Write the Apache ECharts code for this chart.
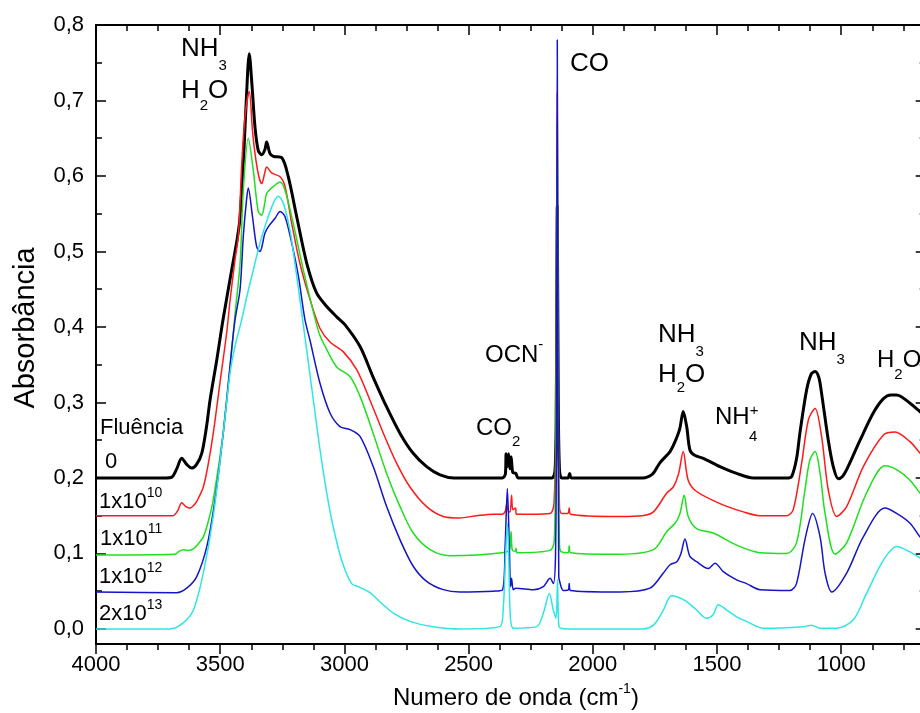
<!DOCTYPE html>
<html><head><meta charset="utf-8">
<script src="https://cdn.jsdelivr.net/npm/echarts@6/dist/echarts.min.js"></script>
<style>html,body{margin:0;padding:0;background:#fff}#c{width:920px;height:713px}</style>
</head><body><div id="c"></div>
<script>
const FONT = "'Liberation Sans', Arial, sans-serif";

// Fluence labels (legend inside plot)
const fluenceLabels = ['0', '1x10^10', '1x10^11', '1x10^12', '2x10^13'];
const seriesColors = ['#000000', '#ff1a1a', '#1ee01e', '#1414c8', '#2ee6e6'];

// [wavenumber cm-1, absorbance]
const fluence0 = [[4000,0.2],[3720,0.2],[3695,0.201],[3675,0.212],[3655,0.226],[3635,0.218],[3615,0.213],[3595,0.218],[3574,0.233],[3555,0.268],[3541,0.303],[3514,0.356],[3489,0.409],[3454,0.475],[3430,0.52],[3420,0.546],[3405,0.63],[3395,0.70],[3383,0.762],[3372,0.72],[3360,0.665],[3347,0.634],[3333,0.628],[3320,0.635],[3313,0.645],[3300,0.63],[3286,0.626],[3252,0.624],[3226,0.599],[3192,0.546],[3152,0.485],[3112,0.445],[3071,0.427],[3030,0.413],[2998,0.403],[2937,0.374],[2885,0.334],[2830,0.294],[2776,0.259],[2724,0.233],[2669,0.215],[2615,0.204],[2559,0.2],[2365,0.2],[2352,0.205],[2349,0.232],[2344,0.215],[2339,0.232],[2334,0.212],[2329,0.228],[2322,0.207],[2310,0.206],[2300,0.2],[2165,0.2],[2152,0.21],[2147,0.3],[2143,0.56],[2139,0.3],[2134,0.21],[2125,0.2],[2100,0.2],[2093,0.206],[2086,0.2],[1800,0.2],[1760,0.205],[1730,0.22],[1689,0.235],[1669,0.248],[1650,0.265],[1636,0.288],[1622,0.268],[1609,0.237],[1590,0.23],[1555,0.226],[1488,0.215],[1421,0.206],[1354,0.2],[1213,0.2],[1199,0.202],[1180,0.225],[1166,0.26],[1139,0.317],[1120,0.338],[1105,0.341],[1090,0.333],[1079,0.312],[1052,0.25],[1032,0.215],[1012,0.199],[995,0.202],[978,0.211],[924,0.25],[871,0.286],[830,0.305],[800,0.31],[777,0.31],[723,0.299],[683,0.288],[660,0.282]];

const fluence1e10 = [[4000,0.15],[3690,0.15],[3672,0.156],[3655,0.167],[3638,0.162],[3622,0.16],[3600,0.166],[3585,0.175],[3568,0.188],[3550,0.215],[3528,0.259],[3501,0.326],[3474,0.392],[3460,0.436],[3440,0.49],[3427,0.52],[3413,0.617],[3400,0.679],[3383,0.712],[3370,0.66],[3360,0.63],[3345,0.6],[3333,0.59],[3320,0.605],[3313,0.612],[3293,0.604],[3259,0.599],[3239,0.586],[3212,0.537],[3179,0.484],[3139,0.437],[3098,0.398],[3058,0.38],[3004,0.367],[2950,0.343],[2897,0.303],[2843,0.259],[2789,0.219],[2736,0.188],[2669,0.162],[2602,0.149],[2535,0.147],[2467,0.15],[2400,0.152],[2365,0.152],[2352,0.156],[2347,0.165],[2340,0.156],[2333,0.155],[2327,0.177],[2322,0.158],[2311,0.16],[2308,0.152],[2250,0.152],[2172,0.153],[2156,0.167],[2148,0.3],[2143,0.71],[2139,0.3],[2134,0.16],[2126,0.153],[2100,0.153],[2095,0.16],[2090,0.152],[1890,0.149],[1800,0.15],[1756,0.155],[1702,0.18],[1676,0.188],[1655,0.205],[1636,0.235],[1616,0.197],[1582,0.182],[1488,0.166],[1394,0.155],[1327,0.15],[1219,0.15],[1193,0.158],[1159,0.22],[1132,0.277],[1105,0.292],[1079,0.255],[1052,0.184],[1018,0.149],[978,0.162],[911,0.215],[830,0.257],[783,0.261],[723,0.248],[683,0.233],[660,0.225]];

const fluence1e11 = [[4000,0.098],[3682,0.099],[3665,0.103],[3649,0.105],[3630,0.104],[3608,0.106],[3590,0.112],[3568,0.122],[3550,0.14],[3528,0.171],[3488,0.259],[3460,0.347],[3440,0.418],[3420,0.484],[3407,0.581],[3387,0.65],[3367,0.608],[3347,0.553],[3333,0.548],[3320,0.565],[3313,0.577],[3286,0.586],[3259,0.592],[3239,0.581],[3206,0.537],[3165,0.475],[3125,0.42],[3100,0.39],[3071,0.37],[3031,0.347],[2977,0.334],[2937,0.308],[2884,0.259],[2830,0.206],[2776,0.162],[2723,0.127],[2655,0.105],[2575,0.097],[2467,0.098],[2365,0.101],[2340,0.103],[2333,0.108],[2329,0.129],[2324,0.104],[2312,0.103],[2309,0.107],[2305,0.101],[2172,0.104],[2155,0.118],[2148,0.3],[2143,0.67],[2139,0.3],[2134,0.11],[2126,0.102],[2100,0.101],[2095,0.11],[2090,0.101],[1890,0.099],[1756,0.105],[1702,0.129],[1669,0.14],[1650,0.152],[1632,0.177],[1616,0.149],[1582,0.133],[1515,0.127],[1421,0.111],[1327,0.101],[1219,0.1],[1180,0.114],[1146,0.184],[1126,0.224],[1105,0.235],[1085,0.206],[1065,0.153],[1025,0.099],[978,0.114],[898,0.18],[824,0.216],[777,0.211],[723,0.197],[683,0.18],[660,0.172]];

const fluence1e12 = [[4000,0.049],[3675,0.048],[3635,0.054],[3595,0.069],[3554,0.109],[3521,0.171],[3488,0.259],[3454,0.37],[3440,0.41],[3420,0.45],[3407,0.52],[3395,0.565],[3387,0.584],[3370,0.546],[3353,0.506],[3340,0.5],[3320,0.524],[3306,0.533],[3279,0.544],[3259,0.553],[3239,0.546],[3212,0.511],[3185,0.467],[3159,0.41],[3139,0.383],[3098,0.325],[3058,0.286],[3018,0.268],[2977,0.264],[2937,0.255],[2884,0.215],[2830,0.162],[2776,0.118],[2723,0.083],[2669,0.063],[2602,0.052],[2535,0.049],[2400,0.05],[2363,0.052],[2353,0.109],[2344,0.186],[2336,0.109],[2331,0.056],[2327,0.067],[2320,0.052],[2309,0.054],[2239,0.052],[2199,0.056],[2172,0.067],[2159,0.06],[2150,0.1],[2146,0.3],[2143,0.78],[2140,0.3],[2137,0.07],[2135,0.065],[2119,0.051],[2098,0.052],[2095,0.06],[2090,0.051],[1890,0.049],[1770,0.054],[1716,0.074],[1689,0.085],[1662,0.089],[1645,0.1],[1629,0.119],[1609,0.096],[1582,0.089],[1535,0.08],[1508,0.087],[1475,0.076],[1421,0.065],[1381,0.06],[1327,0.052],[1206,0.051],[1180,0.06],[1146,0.118],[1115,0.153],[1085,0.122],[1065,0.074],[1038,0.049],[978,0.074],[911,0.122],[824,0.16],[777,0.153],[723,0.14],[683,0.122],[660,0.114]];

const fluence2e13 = [[4000,0.0],[3702,0.0],[3649,0.008],[3608,0.025],[3568,0.074],[3528,0.149],[3488,0.259],[3460,0.34],[3440,0.375],[3413,0.41],[3393,0.44],[3367,0.475],[3340,0.511],[3313,0.54],[3286,0.564],[3266,0.573],[3246,0.564],[3219,0.528],[3199,0.484],[3179,0.436],[3152,0.37],[3125,0.303],[3098,0.237],[3071,0.18],[3045,0.135],[3011,0.091],[2971,0.06],[2937,0.055],[2897,0.048],[2857,0.036],[2803,0.021],[2736,0.01],[2642,0.003],[2535,0.0],[2374,0.003],[2360,0.03],[2352,0.09],[2344,0.14],[2338,0.09],[2333,0.025],[2320,0.001],[2226,0.003],[2199,0.021],[2175,0.047],[2159,0.025],[2148,0.014],[2142,0.065],[2136,0.003],[2100,0.0],[1800,0.0],[1756,0.005],[1716,0.025],[1695,0.04],[1682,0.044],[1649,0.041],[1622,0.036],[1582,0.025],[1542,0.014],[1515,0.019],[1495,0.032],[1461,0.025],[1421,0.016],[1381,0.01],[1314,0.001],[1152,0.003],[1119,0.005],[1085,0.001],[1018,0.001],[951,0.012],[898,0.047],[830,0.091],[777,0.109],[723,0.102],[683,0.094],[660,0.089]];

const allSeries = [fluence0, fluence1e10, fluence1e11, fluence1e12, fluence2e13];
const lineWidths = [3, 1.5, 1.5, 1.5, 1.5];

// rich text helper: parts = [text, kind('b'|'d'|'u'), amount]
function chem(x, cy, parts, F, f) {
  const P = 12;
  const rich = {};
  let text = '';
  parts.forEach((p, i) => {
    const name = 's' + i;
    const [t, kind, amt] = p;
    if (kind === 'b') {
      rich[name] = {fontSize: F, lineHeight: F, verticalAlign: 'top', padding: [P, 0, 0, 0], fontFamily: FONT, color: '#000'};
    } else if (kind === 'd') {
      rich[name] = {fontSize: f, lineHeight: f, verticalAlign: 'top', padding: [P + F / 2 + amt - f / 2, 0, 0, 0], fontFamily: FONT, color: '#000'};
    } else {
      rich[name] = {fontSize: f, lineHeight: f, verticalAlign: 'top', padding: [P + F / 2 - amt - f / 2, 0, 0, 0], fontFamily: FONT, color: '#000'};
    }
    text += '{' + name + '|' + t + '}';
  });
  return {type: 'text', x: x, y: cy - P - F / 2, z: 100, style: {text: text, rich: rich, align: 'left', verticalAlign: 'top'}};
}

const AF = 26, af = 15;
const graphics = [
  chem(181, 49, [['NH', 'b'], ['3', 'd', 17]], AF, af),
  chem(181, 91, [['H', 'b'], ['2', 'd', 15], ['O', 'b']], AF, af),
  chem(570, 64, [['CO', 'b']], AF, af),
  chem(485, 355, [['OCN', 'b'], ['-', 'u', 10]], AF - 2, af),
  chem(476, 428, [['CO', 'b'], ['2', 'd', 14]], AF - 2, af),
  chem(658, 335, [['NH', 'b'], ['3', 'd', 17]], AF, af),
  chem(658, 375, [['H', 'b'], ['2', 'd', 13], ['O', 'b']], AF, af),
  chem(715, 417, [['NH', 'b'], ['+', 'u', 6]], AF - 2, af),
  chem(749, 437, [['4', 'b']], af, af),
  chem(799, 343, [['NH', 'b'], ['3', 'd', 17]], AF, af),
  chem(877, 360, [['H', 'b'], ['2', 'd', 15], ['O', 'b']], AF - 2, af),
  chem(100, 428, [['Fluência', 'b']], 22, 14),
  chem(105, 462, [['0', 'b']], 22, 14),
  chem(99, 502, [['1x10', 'b'], ['10', 'u', 9]], 22, 14),
  chem(100, 539, [['1x10', 'b'], ['11', 'u', 10]], 22, 14),
  chem(99, 577, [['1x10', 'b'], ['12', 'u', 9]], 22, 14),
  chem(99, 614, [['2x10', 'b'], ['13', 'u', 9]], 22, 14),
  chem(393, 698, [['Numero de onda (cm', 'b'], ['-1', 'u', 9], [')', 'b']], 24, 14),
  {type: 'text', x: 26, y: 328, rotation: Math.PI / 2, z: 100,
   style: {text: 'Absorbância', fontSize: 29, fontFamily: FONT, fill: '#000', align: 'center', verticalAlign: 'middle'}}
];

const axisLineStyle = {color: '#000', width: 2};
const tickStyle = {color: '#000', width: 1.5};

const xCommon = {
  type: 'value', inverse: true, min: 500, max: 4000, interval: 500,
  splitLine: {show: false},
  axisLine: {show: true, onZero: false, lineStyle: axisLineStyle},
  minorTick: {show: true, splitNumber: 4, length: 6, lineStyle: tickStyle},
  minorSplitLine: {show: false}
};
const yCommon = {
  type: 'value', min: -0.02, max: 0.8, splitNumber: 8,
  splitLine: {show: false},
  axisLine: {show: true, onZero: false, lineStyle: axisLineStyle},
  minorTick: {show: true, splitNumber: 2, length: 6, lineStyle: tickStyle},
  minorSplitLine: {show: false}
};

const option = {
  animation: false,
  backgroundColor: '#fff',
  grid: {left: 96, width: 869.4, top: 25, bottom: 69, containLabel: false, outerBoundsMode: 'none'},
  xAxis: [
    Object.assign({}, xCommon, {
      position: 'bottom',
      axisTick: {show: true, inside: false, length: 10, lineStyle: tickStyle},
      axisLabel: {show: true, margin: 10, fontSize: 22, fontFamily: FONT, color: '#000',
        formatter: v => (v < 1000 ? '' : String(v))}
    }),
    Object.assign({}, xCommon, {
      position: 'top',
      axisTick: {show: true, inside: true, length: 10, lineStyle: tickStyle},
      minorTick: {show: true, splitNumber: 4, length: 6, lineStyle: tickStyle},
      axisLabel: {show: false}
    })
  ],
  yAxis: [
    Object.assign({}, yCommon, {
      position: 'left',
      axisTick: {show: true, inside: true, length: 10, lineStyle: tickStyle},
      axisLabel: {show: true, margin: 12, fontSize: 22, fontFamily: FONT, color: '#000',
        formatter: v => (v < -0.001 ? '' : v.toFixed(1).replace('.', ','))}
    }),
    Object.assign({}, yCommon, {
      position: 'right', offset: -39.7,
      axisTick: {show: true, inside: true, length: 10, lineStyle: tickStyle},
      axisLabel: {show: false}
    })
  ],
  series: allSeries.map((d, i) => ({
    name: fluenceLabels[i], type: 'line', data: d, xAxisIndex: 0, yAxisIndex: 0,
    showSymbol: false, symbol: 'none', z: 2 + i,
    smooth: 0.3,
    lineStyle: {color: seriesColors[i], width: lineWidths[i], join: 'round'},
    itemStyle: {color: seriesColors[i]}
  })),
  graphic: graphics
};

const chart = echarts.init(document.getElementById('c'), null, {renderer: 'canvas'});
chart.setOption(option);
</script></body></html>
